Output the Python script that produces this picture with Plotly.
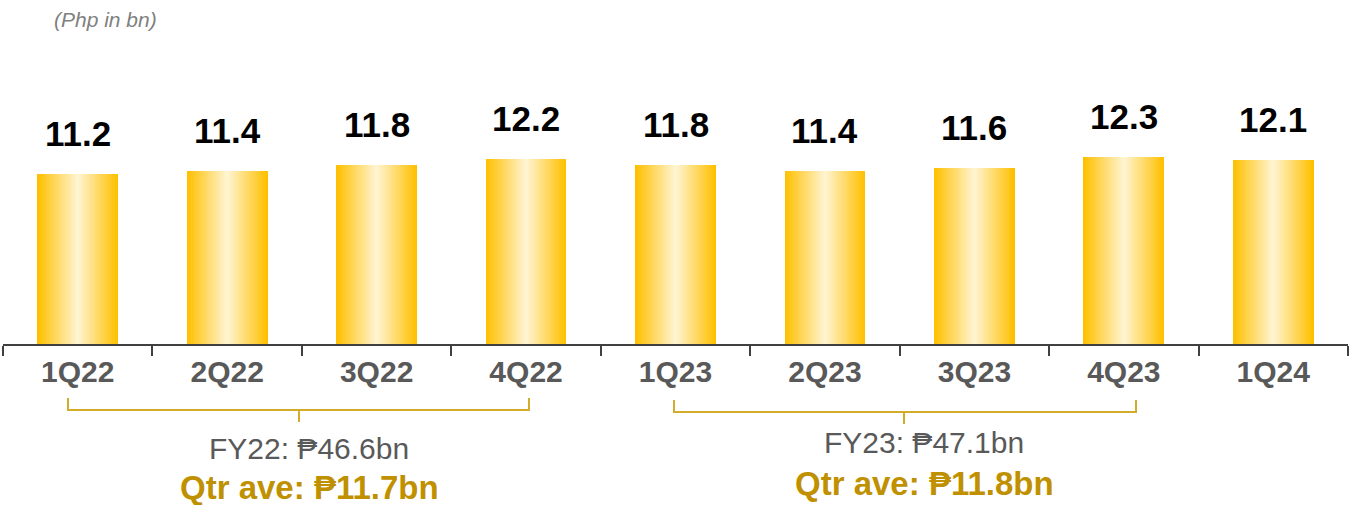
import plotly.graph_objects as go

# ---- data ----
quarters = ["1Q22", "2Q22", "3Q22", "4Q22", "1Q23", "2Q23", "3Q23", "4Q23", "1Q24"]
values = [11.2, 11.4, 11.8, 12.2, 11.8, 11.4, 11.6, 12.3, 12.1]
unit_note = "(Php in bn)"
fy_labels = ["FY22: ₱46.6bn", "FY23: ₱47.1bn"]
qtr_labels = ["Qtr ave: ₱11.7bn", "Qtr ave: ₱11.8bn"]

# ---- style ----
W, H = 1358, 505
M_L, M_R, M_T, M_B = 3, 10, 40, 161
BAR_W = 0.54
N_LAYERS = 28
EDGE = (255, 192, 0)
CENTER = (255, 244, 208)
GOLD = "#BF9000"
BRACE = "#D4AC2B"
GRAY = "#595959"

plot_h = H - M_T - M_B


def py(px):
    """pixel row -> paper y"""
    return (H - M_B - px) / plot_h


def px_x(px):
    """pixel column -> paper x"""
    return (px - M_L) / (W - M_L - M_R)


fig = go.Figure()
for k in range(N_LAYERS):
    t = k / (N_LAYERS - 1)
    c = tuple(round(EDGE[i] + (CENTER[i] - EDGE[i]) * t) for i in range(3))
    fig.add_trace(go.Bar(
        x=quarters, y=values,
        width=BAR_W * (1 - k / N_LAYERS),
        marker=dict(color="rgb(%d,%d,%d)" % c, line=dict(width=0)),
        hoverinfo="skip" if k else "x+y",
        showlegend=False,
    ))

# value labels
for q, v in zip(quarters, values):
    fig.add_annotation(x=q, y=v, text=f"{v:.1f}", showarrow=False,
                       yanchor="bottom", yshift=19,
                       font=dict(family="Liberation Sans, Arial", size=35,
                                 color="#000000", weight="bold"))

# unit note
fig.add_annotation(xref="paper", yref="paper", x=px_x(52), y=py(20),
                   xanchor="left", yanchor="middle", text=unit_note,
                   showarrow=False,
                   font=dict(family="Liberation Sans, Arial", size=21,
                             color="#808080", style="italic"))

# braces
braces = [(68, 529, 299, 398, 410, 422), (674, 1136, 904, 400, 412, 424)]
for (xl, xr, xm, ytop, yh, ytick) in braces:
    path = (f"M {px_x(xl)} {py(ytop)} L {px_x(xl)} {py(yh)} L {px_x(xr)} {py(yh)} "
            f"L {px_x(xr)} {py(ytop)} M {px_x(xm)} {py(yh)} L {px_x(xm)} {py(ytick)}")
    fig.add_shape(type="path", path=path, xref="paper", yref="paper",
                  line=dict(color=BRACE, width=2))

# FY text
fy_pos = [(309, 448, 487), (924, 442, 483)]
for (xc, y1, y2), fl, ql in zip(fy_pos, fy_labels, qtr_labels):
    fig.add_annotation(xref="paper", yref="paper", x=px_x(xc), y=py(y1),
                       text=fl, showarrow=False, xanchor="center", yanchor="middle",
                       font=dict(family="Liberation Sans, Arial", size=30, color=GRAY))
    fig.add_annotation(xref="paper", yref="paper", x=px_x(xc), y=py(y2),
                       text=ql, showarrow=False, xanchor="center", yanchor="middle",
                       font=dict(family="Liberation Sans, Arial", size=33, color=GOLD,
                                 weight="bold"))

fig.update_layout(
    width=W, height=H,
    margin=dict(l=M_L, r=M_R, t=M_T, b=M_B),
    barmode="overlay",
    bargap=0,
    plot_bgcolor="white", paper_bgcolor="white",
    xaxis=dict(
        type="category", range=[-0.5, len(quarters) - 0.5],
        showline=True, linecolor="#404040", linewidth=1.5,
        ticks="outside", tickson="boundaries", ticklen=10, tickwidth=1.5,
        tickcolor="#404040",
        tickfont=dict(family="Liberation Sans, Arial", size=30, color=GRAY,
                      weight="bold"),
        showgrid=False, zeroline=False, fixedrange=True,
    ),
    yaxis=dict(range=[0, 20], visible=False, showgrid=False, zeroline=False,
               fixedrange=True),
)

fig.write_html("out.html")
